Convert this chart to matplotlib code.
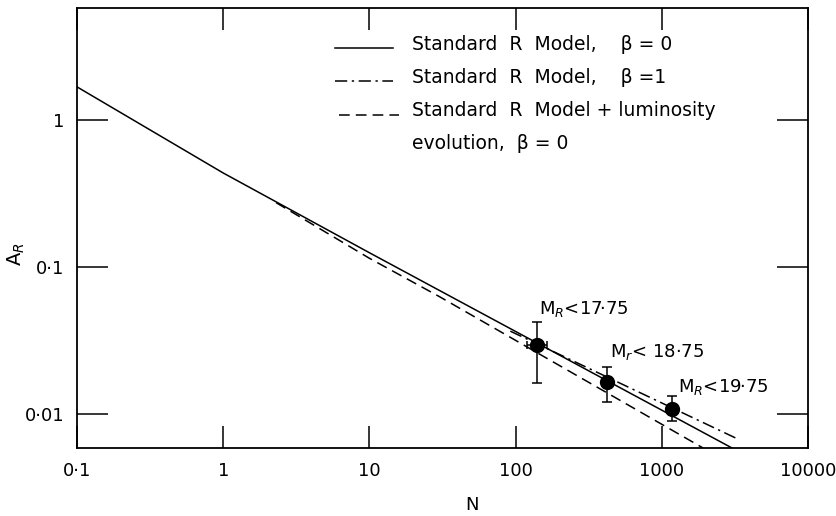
import matplotlib
matplotlib.use("Agg")
import matplotlib.pyplot as plt
from matplotlib.ticker import FixedLocator, FixedFormatter, NullLocator

# model curves
solid_n = [0.1, 1, 10, 3020]
solid_a = [1.68, 0.436, 0.125, 0.00587]
dashed_n = [2.3, 10, 30, 1914]
dashed_a = [0.274, 0.1146, 0.063, 0.00587]
dashdot_n = [92, 3335]
dashdot_a = [0.0366, 0.00673]

# observed points
pts_n = [140, 420, 1180]
pts_a = [0.0294, 0.0166, 0.0108]
pts_lo = [0.0163, 0.0121, 0.00896]
pts_hi = [0.0421, 0.0208, 0.01326]
pt1_nlo, pt1_nhi = 119, 165
pt_labels = ["M$_R$<17·75", "M$_r$< 18·75", "M$_R$<19·75"]

xticks = [0.1, 1, 10, 100, 1000, 10000]
xticklabels = ["0·1", "1", "10", "100", "1000", "10000"]
yticks = [0.01, 0.1, 1]
yticklabels = ["0·01", "0·1", "1"]

legend_labels = ["Standard  R  Model,    β = 0",
                 "Standard  R  Model,    β =1",
                 "Standard  R  Model + luminosity",
                 "evolution,  β = 0"]

fig = plt.figure(figsize=(8.37, 5.16), dpi=100)
ax = fig.add_axes([0.092, 0.1318, 0.8734, 0.8527])
ax.set_xscale("log")
ax.set_yscale("log")
ax.set_xlim(0.1, 10000)
ax.set_ylim(0.00587, 5.78)

lw = 1.1
ax.plot(solid_n, solid_a, color="black", lw=lw)
ax.plot(dashed_n, dashed_a, color="black", lw=lw, dashes=(7, 4))
ax.plot(dashdot_n, dashdot_a, color="black", lw=lw, dashes=(8, 3, 1.5, 3))

yerr = [[a - lo for a, lo in zip(pts_a, pts_lo)],
        [hi - a for a, hi in zip(pts_a, pts_hi)]]
ax.errorbar(pts_n, pts_a, yerr=yerr, fmt="o", color="black", ms=10,
            capsize=3.5, elinewidth=1.1, capthick=1.1)
ax.errorbar([pts_n[0]], [pts_a[0]],
            xerr=[[pts_n[0] - pt1_nlo], [pt1_nhi - pts_n[0]]],
            fmt="none", ecolor="black", capsize=3, elinewidth=1.1, capthick=1.1)

offsets = [(1.04, 1.5), (1.05, 1.36), (1.1, 1.2)]
for n, a, lab, (fx, fy) in zip(pts_n, pts_a, pt_labels, offsets):
    ax.text(n * fx, a * fy, lab, fontsize=13, ha="left", va="bottom")

# legend drawn by hand
x0, x1, xt = 0.353, 0.432, 0.458
rows = [0.916, 0.841, 0.766, 0.691]
lines_y = [0.910, 0.834, 0.757]
ax.plot([x0, x1], [lines_y[0]] * 2, transform=ax.transAxes, color="black", lw=lw)
ax.plot([x0, x1], [lines_y[1]] * 2, transform=ax.transAxes, color="black", lw=lw,
        dashes=(8, 3, 1.5, 3))
ax.plot([x0 + 0.005, x1 + 0.008], [lines_y[2]] * 2,
        transform=ax.transAxes, color="black", lw=lw, dashes=(7, 4))
for r, lab in zip(rows, legend_labels):
    ax.text(xt, r, lab, transform=ax.transAxes, fontsize=13.5, va="center", ha="left")

ax.xaxis.set_major_locator(FixedLocator(xticks))
ax.xaxis.set_major_formatter(FixedFormatter(xticklabels))
ax.yaxis.set_major_locator(FixedLocator(yticks))
ax.yaxis.set_major_formatter(FixedFormatter(yticklabels))
ax.xaxis.set_minor_locator(NullLocator())
ax.yaxis.set_minor_locator(NullLocator())
ax.tick_params(axis="x", which="major", direction="in", length=16, width=1.1,
               top=True, labelsize=13, pad=10)
ax.tick_params(axis="y", which="major", direction="in", length=22, width=1.1,
               right=True, labelsize=13, pad=9)
for s in ax.spines.values():
    s.set_linewidth(1.3)

ax.set_xlabel("N", fontsize=13)
ax.xaxis.set_label_coords(0.54, -0.11)
ax.set_ylabel("A$_R$", fontsize=14)
ax.yaxis.set_label_coords(-0.068, 0.44)

fig.savefig("out.png", dpi=100)
